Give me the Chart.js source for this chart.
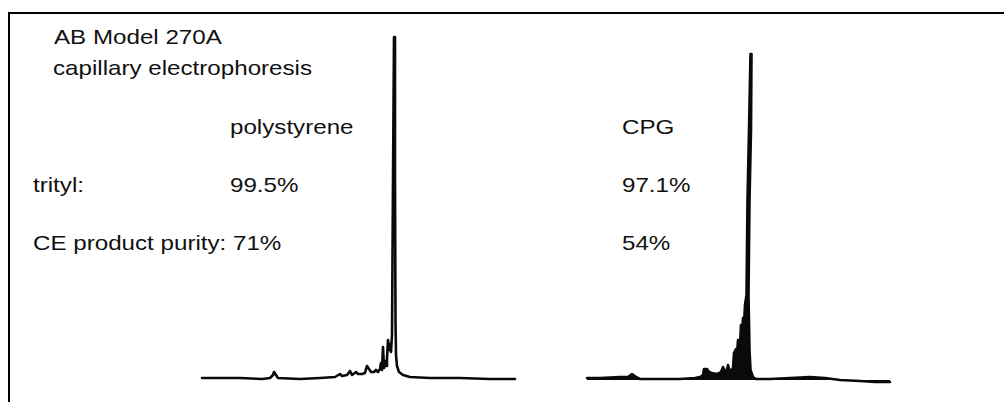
<!DOCTYPE html>
<html>
<head>
<meta charset="utf-8">
<script src="https://cdn.jsdelivr.net/npm/chart.js@4.4.1/dist/chart.umd.min.js"></script>
<style>
  html, body { margin: 0; padding: 0; background: #fff; width: 1004px; height: 402px; overflow: hidden; }
  #frame { position: absolute; left: 8px; top: 12px; width: 1200px; height: 600px; border: 2.5px solid #000; box-sizing: border-box; }
  .lbl { position: absolute; font-family: "Liberation Sans", Arial, Helvetica, sans-serif; font-size: 21px; line-height: 21px; color: #111; white-space: nowrap; transform-origin: 0 0; transform: scaleX(1.15); }
  canvas { position: absolute; }
</style>
</head>
<body>
<div id="frame"></div>
<div id="labels"></div>
<div id="c1wrap" style="position:absolute;left:196px;top:30px;width:324px;height:356px;"><canvas id="c1"></canvas></div>
<div id="c2wrap" style="position:absolute;left:582px;top:30px;width:312px;height:356px;"><canvas id="c2"></canvas></div>
<script>
// Electropherogram 1 (polystyrene support): migration time (arb. s) and detector signal (arb.)
const time1 = [2,40,62,70,73,74,76,78,100,120,135,140,142,147,150,152,156,158,162,165,166,167,169,171,174,176,178,180,181,182,183,184,185,186,187,188,189,190,191,192,193,194,195,195.5,196,197,199,203,210,230,260,290,315];
const signal1 = [2,2,1,2,5,8,5,2,1,2,3,6,4,5,9,5,8,6,6,7,11,14,11,8,8,10,8,11,17,10,33,12,19,14,22,40,30,36,28,45,200,343,200,60,25,14,8,5,3,2,2,1,1];
// Electropherogram 2 (CPG support); the main peak is traced up its left edge and down its right edge
const time2 = [1,14,34,42,46,50,54,74,94,109,114,117,118,121,123,126,130,134,136,137,139,141,142,143,145,147,148,150,151,152,154,155,156,157,158,159,160.5,161.5,163,164.5,165.5,165,163.5,162.5,163.5,164.5,167,170,184,204,224,239,254,274,289,304];
const signal2 = [2,2,3,3,6,3,1,1,1,2,3,5,11,11,8,7,6,7,10,13,9,10,15,11,9,12,27,31,25,40,35,55,45,62,55,75,85,180,250,326,326,250,180,85,30,10,3,1,1,2,3,2,0,-1,-2,-2];

// Text annotations
const labelTexts = ["AB Model 270A","capillary electrophoresis","polystyrene","CPG","trityl:","99.5%","97.1%","CE product purity: 71%","54%"];
const labelPos = [[54,44],[53,75],[230,134],[622,134],[33,192],[230,192],[622,192],[33,250],[622,250]];

const lw = document.getElementById('labels');
labelTexts.forEach((t,i)=>{
  const d = document.createElement('div');
  d.className = 'lbl';
  d.textContent = t;
  d.style.left = labelPos[i][0] + 'px';
  d.style.top = (labelPos[i][1] - 17.8) + 'px';
  lw.appendChild(d);
});

function makeChart(id, xs, ys, xmin, xmax, filled) {
  new Chart(document.getElementById(id), {
    type: 'line',
    data: { datasets: [{
      data: xs.map((x,i)=>({x:x, y:ys[i]})),
      borderColor: '#0a0a0a', backgroundColor: '#0a0a0a',
      borderWidth: 2.6, pointRadius: 0, tension: 0, fill: filled ? 'origin' : false, clip: false,
      borderJoinStyle: 'round', borderCapStyle: 'round'
    }]},
    options: {
      responsive: true, maintainAspectRatio: false, animation: false,
      layout: { padding: 0 },
      plugins: { legend: { display: false }, tooltip: { enabled: false } },
      scales: {
        x: { type: 'linear', min: xmin, max: xmax, display: false },
        y: { type: 'linear', min: -6, max: 350, display: false }
      }
    }
  });
}
makeChart('c1', time1, signal1, -4, 320, false);
makeChart('c2', time2, signal2, -4, 308, true);
</script>
</body>
</html>
